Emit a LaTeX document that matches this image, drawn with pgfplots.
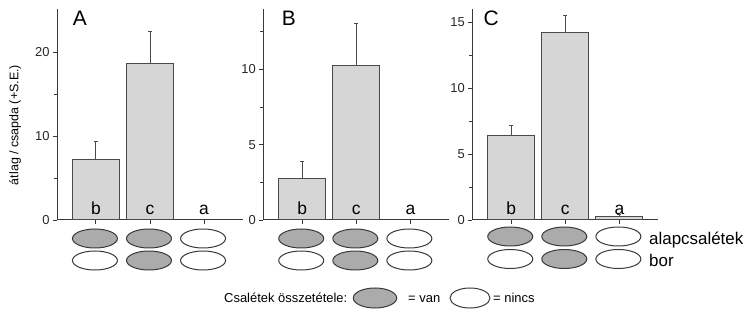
\documentclass[border=0pt]{standalone}
\usepackage{pgfplots}
\pgfplotsset{compat=1.18}
\usepackage{fontspec}
\setmainfont{Liberation Sans}
\definecolor{barfill}{HTML}{D6D6D6}
\definecolor{baredge}{HTML}{4A4A4A}
\definecolor{axisgray}{HTML}{3A3A3A}
\definecolor{ellfill}{HTML}{ABABAB}
\definecolor{elldraw}{HTML}{3A3A3A}
\tikzset{ell/.style={line width=1bp, draw=elldraw}}
\pgfplotsset{
  panel/.style={
    width=186bp, height=211bp, scale only axis,
    anchor=south west,
    axis lines=left,
    axis line style={-, draw=axisgray, line width=1bp},
    xmin=-0.72, xmax=2.72, ymin=0,
    xtick={0,1,2}, xticklabels={,,},
    tick align=outside, major tick length=4bp, minor tick length=3bp,
    every tick/.style={draw=axisgray, line width=0.9bp},
    ticklabel style={font=\fontsize{13}{13}\selectfont, text=black!85},
    /pgf/number format/assume math mode=true,
    clip=false,
  },
  bars/.style={
    ybar, bar width=47bp, bar shift=0pt,
    fill=barfill, draw=baredge, line width=1bp,
    error bars/.cd, y dir=plus, y explicit,
    error mark=|,
    error bar style={line width=1bp, draw=baredge},
    error mark options={line width=1bp, mark size=2bp, draw=baredge},
  },
}
\newcommand{\lett}{\fontsize{17.5}{17.5}\selectfont}
\newcommand{\oneell}[3]{%
  \draw[ell, fill=#3] (axis cs:#1,0) ++(-1bp,-#2) ellipse [x radius=22.5bp, y radius=9.5bp];}
\newcommand{\ells}[2]{%
  \oneell{0}{#1}{ellfill}\oneell{0}{#2}{white}%
  \oneell{1}{#1}{ellfill}\oneell{1}{#2}{ellfill}%
  \oneell{2}{#1}{white}\oneell{2}{#2}{white}%
}
\newcommand{\letters}{%
  \node[anchor=base, font=\lett, yshift=5bp] at (axis cs:0,0) {b};
  \node[anchor=base, font=\lett, yshift=5bp] at (axis cs:1,0) {c};
  \node[anchor=base, font=\lett, yshift=5bp] at (axis cs:2,0) {a};
}
\begin{document}
\begin{tikzpicture}
\useasboundingbox (0,0) rectangle (744bp,315bp);
% Panel A
\begin{axis}[panel, at={(57bp,95bp)}, ymax=25.2, ytick={0,10,20}, minor ytick={5,15}]
\addplot[bars] coordinates {(0,7.17) +- (0,2.19) (1,18.72) +- (0,3.74)};
\letters
\ells{18.5bp}{40.5bp}
\end{axis}
% Panel B
\begin{axis}[panel, at={(263.3bp,95bp)}, ymax=14, ytick={0,5,10}, minor ytick={2.5,7.5,12.5}]
\addplot[bars] coordinates {(0,2.77) +- (0,1.08) (1,10.27) +- (0,2.78)};
\letters
\ells{18.5bp}{40.5bp}
\end{axis}
% Panel C
\begin{axis}[panel, at={(472.3bp,95bp)}, ymax=16, ytick={0,5,10,15}, minor ytick={2.5,7.5,12.5}]
\addplot[bars] coordinates {(0,6.44) +- (0,0.76) (1,14.22) +- (0,1.31) (2,0.23) +- (0,0.20)};
\letters
\ells{16.5bp}{39bp}
\end{axis}
% panel letters
\node[anchor=base west, inner sep=0pt, font=\fontsize{21}{21}\selectfont] at (72.7bp,289bp) {A};
\node[anchor=base west, inner sep=0pt, font=\fontsize{21}{21}\selectfont] at (281.7bp,289bp) {B};
\node[anchor=base west, inner sep=0pt, font=\fontsize{21}{21}\selectfont] at (483.3bp,289bp) {C};
% y label
\node[rotate=90, font=\fontsize{12.5}{12.5}\selectfont] at (15bp,190bp) {átlag / csapda (+S.E.)};
% right labels
\node[anchor=base west, font=\fontsize{17}{17}\selectfont, inner sep=0pt] at (649bp,70bp) {alapcsalétek};
\node[anchor=base west, font=\fontsize{17}{17}\selectfont, inner sep=0pt] at (649bp,48bp) {bor};
% legend
\node[anchor=base west, font=\fontsize{13}{13}\selectfont, inner sep=0pt] at (224bp,13bp) {Csalétek összetétele:};
\draw[ell, fill=ellfill] (375bp,17bp) ellipse [x radius=21.7bp, y radius=10bp];
\node[anchor=base west, font=\fontsize{13}{13}\selectfont, inner sep=0pt] at (408bp,13bp) {= van};
\draw[ell, fill=white] (470bp,17bp) ellipse [x radius=20bp, y radius=10bp];
\node[anchor=base west, font=\fontsize{13}{13}\selectfont, inner sep=0pt] at (493bp,13bp) {= nincs};
\end{tikzpicture}
\end{document}
